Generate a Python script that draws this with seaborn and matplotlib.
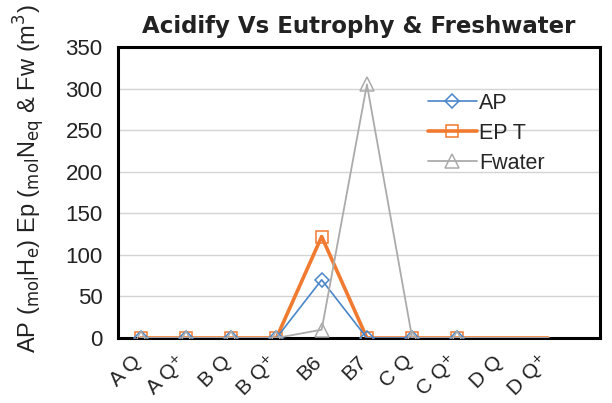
"""
Acidify vs Eutrophy & Freshwater line chart
"""

import pandas as pd
import numpy as np
import matplotlib
matplotlib.use('Agg')
import matplotlib.pyplot as plt
import matplotlib.transforms as mtransforms
import seaborn as sns

# Data
categories = ['A Q', 'A Q⁺', 'B Q', 'B Q⁺', 'B6', 'B7', 'C Q', 'C Q⁺', 'D Q', 'D Q⁺']
ap_values = [0, 0, 0, 0, 70, 0, 0, 0, 0, 0]
ept_values = [0, 0, 0, 0, 122, 0, 0, 0, 0, 0]
fwater_values = [0, 0, 0, 0, 10, 305, 0, 0, 0, 0]
y_ticks = [0, 50, 100, 150, 200, 250, 300, 350]

sns.set_theme(style='white')
plt.rcParams['font.family'] = ['Liberation Sans', 'DejaVu Sans']

df = pd.DataFrame({
    'pos': np.arange(len(categories)),
    'AP': ap_values,
    'EP T': ept_values,
    'Fwater': fwater_values,
})

fig = plt.figure(figsize=(6.12, 4.03), dpi=100)
ax = fig.add_axes([118 / 612, 1 - 338 / 403, (600 - 118) / 612, (338 - 47) / 403])

# Gridlines first
for t in y_ticks[1:-1]:
    ax.axhline(t, color='#D4D4D4', linewidth=1, zorder=0)

styles = {
    'AP': dict(color='#4A86C8', marker='D', markersize=7, linewidth=1.2),
    'EP T': dict(color='#F07A30', marker='s', markersize=9, linewidth=2.6),
    'Fwater': dict(color='#ABABAB', marker='^', markersize=10, linewidth=1.3),
}
for name in ['EP T', 'AP', 'Fwater']:
    st = styles[name]
    sns.lineplot(data=df, x='pos', y=name, ax=ax, color=st['color'],
                 linewidth=st['linewidth'], marker=st['marker'],
                 markersize=st['markersize'], markerfacecolor='none',
                 markeredgecolor=st['color'], markeredgewidth=1.1,
                 markevery=list(range(8)), label=name, zorder=3)

ax.set_xlim(-0.5, 10.15)
ax.set_ylim(0, 350)
ax.set_yticks(y_ticks)
ax.set_yticklabels([str(t) for t in y_ticks], fontsize=16, color='#222222')
ax.set_xticks(df['pos'])
ax.set_xticklabels(categories, rotation=45, ha='right', rotation_mode='anchor',
                   fontsize=15, color='#222222')
ax.tick_params(axis='y', length=0, pad=11)
ax.tick_params(axis='x', length=0, pad=10)
ax.set_xlabel('')
ax.set_ylabel('')

# shift the rotated category labels a little to the left
shift = mtransforms.ScaledTranslation(-7 / 72, 0, fig.dpi_scale_trans)
for lbl in ax.get_xticklabels():
    lbl.set_transform(lbl.get_transform() + shift)

fig.text(11 / 612, 1 - 353 / 403,
         r'AP ($_{\mathrm{mol}}$H$_{\mathrm{e}}$) Ep ($_{\mathrm{mol}}$N$_{\mathrm{eq}}$ & Fw (m$^3$)',
         rotation=90, ha='left', va='bottom', fontsize=17, color='#222222')

for side in ['left', 'right', 'top', 'bottom']:
    ax.spines[side].set_visible(True)
    ax.spines[side].set_color('black')
    ax.spines[side].set_linewidth(2.2)

ax.set_title('Acidify Vs Eutrophy & Freshwater', fontsize=16.5, fontweight='bold',
             family='DejaVu Sans', color='#222222', pad=10)

handles, labels = ax.get_legend_handles_labels()
order = [labels.index(n) for n in ['AP', 'EP T', 'Fwater']]
ax.legend([handles[i] for i in order], [labels[i] for i in order],
          loc='upper left', bbox_to_anchor=(0.62, 0.88), frameon=False,
          fontsize=15.5, borderpad=0, handlelength=2.3, handletextpad=0.1,
          labelspacing=0.42)

plt.savefig('out.png', dpi=100)
